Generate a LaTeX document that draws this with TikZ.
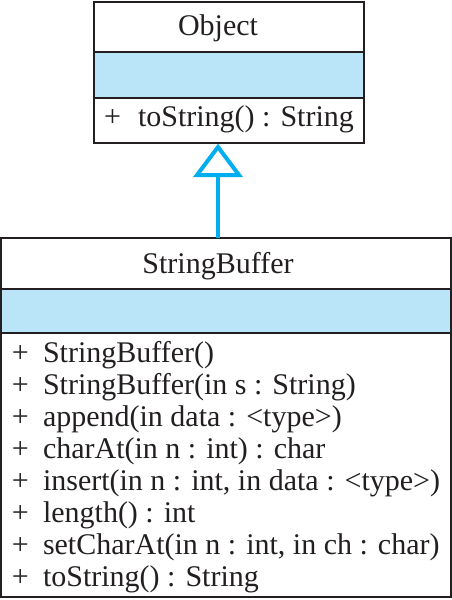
\documentclass[tikz,border=0pt]{standalone}
\usepackage{fontspec}
\setmainfont{Liberation Serif}
\definecolor{umlline}{HTML}{231F20}
\definecolor{umlfill}{HTML}{BAE4F8}
\definecolor{umlcyan}{HTML}{00AEEF}
\begin{document}
\begin{tikzpicture}[x=1pt,y=-1pt,
  boxline/.style={draw=umlline,line width=2pt},
  attrband/.style={fill=umlfill},
  txt/.style={inner sep=0pt,outer sep=0pt,font=\fontsize{30}{32}\selectfont,text=umlline},
  lefttxt/.style={txt,anchor=base west},
  midtxt/.style={txt,anchor=base}]
\useasboundingbox (0,0) rectangle (452,600);
% Object class
\fill[attrband] (94,52) rectangle (364,98);
\draw[boxline] (94,2) rectangle (364,143);
\draw[boxline] (94,52) -- (364,52);
\draw[boxline] (94,98) -- (364,98);
\node[midtxt] (objname) at (218,35) {Object};
\node[lefttxt] (objplus) at (104,126) {+};
\node[lefttxt] (objm1) at (138,126) {toString() : String};
\coordinate (objbottom) at (218,143);
% StringBuffer class
\fill[attrband] (1,289) rectangle (451,333);
\draw[boxline] (1,238) rectangle (451,597);
\draw[boxline] (1,289) -- (451,289);
\draw[boxline] (1,333) -- (451,333);
\node[midtxt] (sbname) at (218,273) {StringBuffer};
\coordinate (sbtop) at (218,238);
\foreach \i/\t in {1/{StringBuffer()},2/{StringBuffer(in s : String)},3/{append(in data : <type>)},4/{charAt(in n : int) : char},5/{insert(in n : int, in data : <type>)},6/{length() : int},7/{setCharAt(in n : int, in ch : char)},8/{toString() : String}}{
  \node[lefttxt] (sbplus\i) at (12,{330+32*\i}) {+};
  \node[lefttxt] (sbm\i) at (43,{330+32*\i}) {\t};
}
% generalization arrow
\coordinate (tribase) at (218,175);
\draw[umlcyan,line width=4pt] (sbtop) -- (tribase);
\draw[umlcyan,line width=4pt,line join=miter,fill=white] (218,147) -- (239,175) -- (197,175) -- cycle;
\end{tikzpicture}
\end{document}
